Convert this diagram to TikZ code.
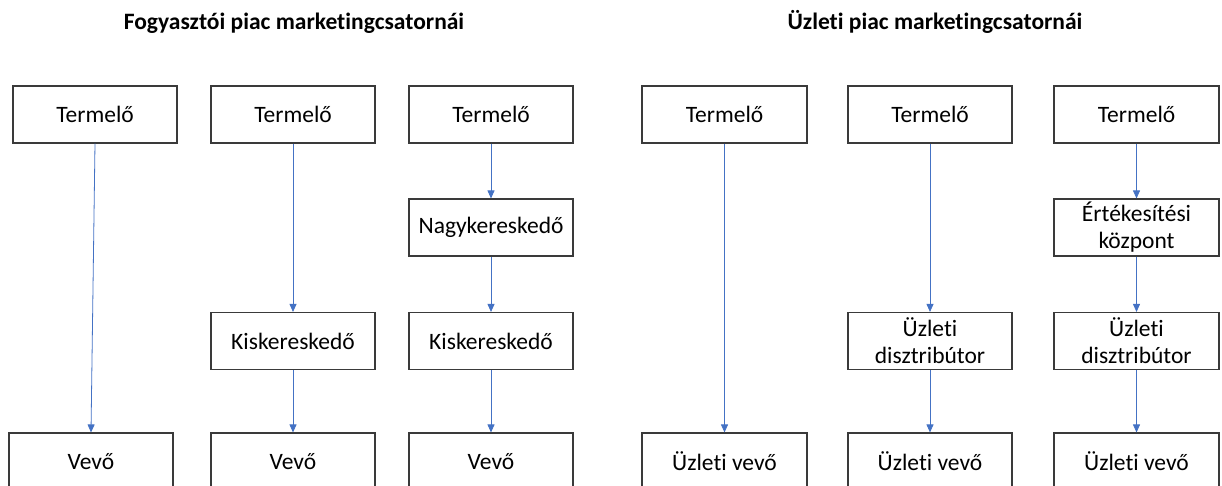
\documentclass[tikz,border=0pt]{standalone}
\usepackage{fontspec}
\setmainfont{Carlito}[Ligatures=CommonOff]
\usetikzlibrary{arrows.meta}
\definecolor{arrowblue}{HTML}{4472C4}
\definecolor{boxline}{HTML}{3A3A3A}
\tikzset{
  chbox/.style={draw=boxline, line width=1.1pt, minimum width=164pt, minimum height=57pt,
    inner sep=0pt, align=center, font=\fontsize{23.5}{27}\selectfont},
  title/.style={anchor=base, font=\fontsize{23.5}{27}\selectfont\bfseries},
  flow/.style={draw=arrowblue, line width=0.8pt, -{Triangle[length=8pt,width=7pt]}}
}
\begin{document}
\begin{tikzpicture}[x=1pt,y=-1pt]
\useasboundingbox (0,0) rectangle (1222,486);
% titles
\node[title] (t1) at (294,30) {Fogyasztói piac marketingcsatornái};
\node[title] (t2) at (935,30) {Üzleti piac marketingcsatornái};
% column 1
\node[chbox] (a1) at (95,114.5) {Termelő};
\node[chbox] (a4) at (91,461.5) {Vevő};
% column 2
\node[chbox] (b1) at (293,114.5) {Termelő};
\node[chbox] (b3) at (293,341) {Kiskereskedő};
\node[chbox] (b4) at (293,461.5) {Vevő};
% column 3
\node[chbox] (c1) at (491,114.5) {Termelő};
\node[chbox] (c2) at (491,227.5) {Nagykereskedő};
\node[chbox] (c3) at (491,341) {Kiskereskedő};
\node[chbox] (c4) at (491,461.5) {Vevő};
% column 4
\node[chbox, minimum width=165pt] (d1) at (724.5,114.5) {Termelő};
\node[chbox, minimum width=165pt] (d4) at (724.5,461.5) {Üzleti vevő};
% column 5
\node[chbox] (e1) at (930,114.5) {Termelő};
\node[chbox] (e3) at (930,341) {Üzleti\\disztribútor};
\node[chbox] (e4) at (930,461.5) {Üzleti vevő};
% column 6
\node[chbox, minimum width=165pt] (f1) at (1136.5,114.5) {Termelő};
\node[chbox, minimum width=165pt] (f2) at (1136.5,227.5) {Értékesítési\\központ};
\node[chbox, minimum width=165pt] (f3) at (1136.5,341) {Üzleti\\disztribútor};
\node[chbox, minimum width=165pt] (f4) at (1136.5,461.5) {Üzleti vevő};
% connectors
\draw[flow] (a1.south) -- (a4.north);
\draw[flow] (b1.south) -- (b3.north);
\draw[flow] (b3.south) -- (b4.north);
\draw[flow] (c1.south) -- (c2.north);
\draw[flow] (c2.south) -- (c3.north);
\draw[flow] (c3.south) -- (c4.north);
\draw[flow] (d1.south) -- (d4.north);
\draw[flow] (e1.south) -- (e3.north);
\draw[flow] (e3.south) -- (e4.north);
\draw[flow] (f1.south) -- (f2.north);
\draw[flow] (f2.south) -- (f3.north);
\draw[flow] (f3.south) -- (f4.north);
\end{tikzpicture}
\end{document}
